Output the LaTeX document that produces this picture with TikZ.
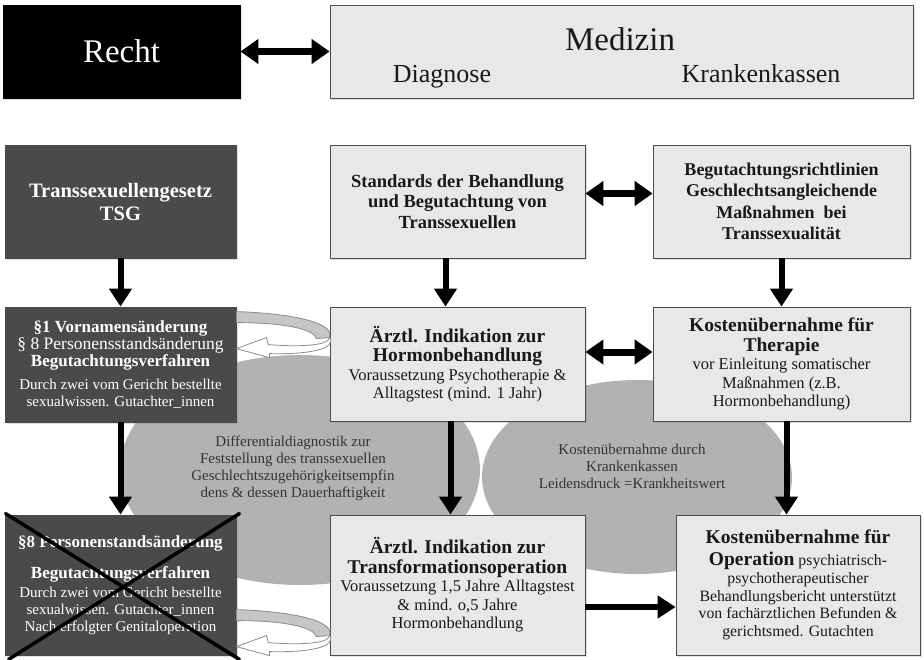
\documentclass[tikz,border=0pt]{standalone}
\usepackage{fontspec}
\setmainfont{Liberation Serif}
\usetikzlibrary{arrows.meta,shadows,shapes.geometric}
\definecolor{darkfill}{gray}{0.29}
\definecolor{lightfill}{gray}{0.91}
\definecolor{blobfill}{gray}{0.70}
\definecolor{inktext}{gray}{0.10}
\definecolor{ringgray}{gray}{0.55}
\newcommand{\hd}[1]{{\bfseries\fontsize{19.5}{22}\selectfont #1}}
\newcommand{\hdw}[1]{{\bfseries\fontsize{17}{20}\selectfont #1}}
\tikzset{
  ringarrow/.pic={
    \filldraw[fill=gray!45, draw=ringgray, line width=0.8pt] (0,0) .. controls (60,2) and (99,12) .. (93,26) -- (80,27) .. controls (78,18) and (50,11) .. (0,11) -- cycle;
    \filldraw[fill=white, draw=ringgray, line width=0.8pt] (93,25) .. controls (95,33) and (70,36) .. (32,33) -- (30,26) -- (0,37) -- (33,46) -- (33,42) .. controls (75,43) and (101,37) .. (93,25) -- cycle;
  }
}
\begin{document}
\begin{tikzpicture}[x=1pt,y=-1pt]
\tikzstyle{box} = [rectangle, text centered, align=center, inner sep=2pt, line width=0.8pt, drop shadow={opacity=0.25,shadow xshift=1.5pt,shadow yshift=-1.5pt}]
\tikzstyle{lightstate} = [box, draw=black!70, fill=lightfill, text=inktext, font=\fontsize{16.5}{18.5}\selectfont]
\tikzstyle{darkstate} = [box, draw=darkfill, fill=darkfill, text=white, font=\fontsize{15}{17}\selectfont]
\tikzstyle{blob} = [ellipse, fill=blobfill, inner sep=0pt]
\tikzstyle{blobtext} = [text=black!80, align=center, font=\fontsize{15}{17}\selectfont]
\tikzstyle{bigarrow} = [line width=6pt, -{Triangle[width=22pt,length=18pt]}]
\tikzstyle{bothways} = [line width=7pt, {Triangle[width=24pt,length=18pt]}-{Triangle[width=24pt,length=18pt]}]
\useasboundingbox (0,0) rectangle (924,659);
\node[blob, minimum width=360pt, minimum height=230pt] at (300,470) (blob_diag){};
\node[blob, minimum width=310pt, minimum height=194pt] at (637,477) (blob_kasse){};
\node[blobtext] at (293,468) (diag_text){Differentialdiagnostik zur\\Feststellung des transsexuellen\\Geschlechtszugehörigkeitsempfin\\dens \& dessen Dauerhaftigkeit};
\node[blobtext] at (632,466) (kasse_text){Kostenübernahme durch\\Krankenkassen\\Leidensdruck =Krankheitswert};
\node[box, fill=black, draw=black, text=white, minimum width=237pt, minimum height=93pt, font=\fontsize{33}{36}\selectfont] at (121.5,51.5) (recht){Recht};
\node[lightstate, minimum width=583pt, minimum height=93pt] at (621.5,51.5) (medizin){};
\node[anchor=base, text=inktext, font=\fontsize{33}{36}\selectfont] at (620,50) (med_title){Medizin};
\node[anchor=base, text=inktext, font=\fontsize{26}{30}\selectfont] at (442,82) (med_diag){Diagnose};
\node[anchor=base, text=inktext, font=\fontsize{26}{30}\selectfont] at (761,82) (med_kasse){Krankenkassen};
\node[darkstate, minimum width=231pt, minimum height=113pt, font=\bfseries\fontsize{20.5}{23}\selectfont] at (120.5,201.5) (tsg){Transsexuellengesetz\\TSG};
\node[lightstate, minimum width=255pt, minimum height=113pt, font=\bfseries\fontsize{18.5}{20.5}\selectfont] at (457.5,201.5) (standards){Standards der Behandlung\\und Begutachtung von\\Transsexuellen};
\node[lightstate, minimum width=257pt, minimum height=113pt, font=\bfseries\fontsize{18}{21.5}\selectfont] at (781.5,201.5) (richtlinien){Begutachtungsrichtlinien\\Geschlechtsangleichende\\Maßnahmen\ \ bei\\Transsexualität};
\node[darkstate, minimum width=231pt, minimum height=115pt] at (120.5,364.5) (vorname){\hdw{§1 Vornamensänderung}\\{\fontsize{17.5}{19}\selectfont § 8 Personensstandsänderung}\\\hdw{Begutachtungsverfahren}\\[6pt]Durch zwei vom Gericht bestellte\\sexualwissen. Gutachter\_innen};
\node[lightstate, minimum width=255pt, minimum height=114pt] at (457.5,364) (hormon){\hd{Ärztl. Indikation zur}\\[1pt]\hd{Hormonbehandlung}\\Voraussetzung Psychotherapie \&\\Alltagstest (mind. 1 Jahr)};
\node[lightstate, minimum width=257pt, minimum height=114pt] at (781.5,364) (kostther){\hd{Kostenübernahme für}\\[1pt]\hd{Therapie}\\vor Einleitung somatischer\\Maßnahmen (z.B.\\Hormonbehandlung)};
\node[darkstate, minimum width=231pt, minimum height=140pt] at (120.5,585) (pstand){\hdw{§8 Personenstandsänderung}\\[14pt]\hdw{Begutachtungsverfahren}\\[2pt]Durch zwei vom Gericht bestellte\\sexualwissen. Gutachter\_innen\\Nach erfolgter Genitaloperation};
\node[lightstate, minimum width=255pt, minimum height=140pt] at (457.5,585) (transform){\hd{Ärztl. Indikation zur}\\[1pt]\hd{Transformationsoperation}\\Voraussetzung 1,5 Jahre Alltagstest\\\& mind. o,5 Jahre\\Hormonbehandlung};
\node[lightstate, minimum width=244pt, minimum height=140pt, font=\fontsize{15.8}{17.5}\selectfont] at (798,585) (kostop){\hd{Kostenübernahme für}\\[4pt]\hd{Operation} psychiatrisch-\\[1pt]psychotherapeutischer\\Behandlungsbericht unterstützt\\von fachärztlichen Befunden \&\\gerichtsmed. Gutachten};
\draw[line width=3.5pt, line cap=round] ([shift={(1pt,1pt)}]pstand.north west) -- ([shift={(3pt,-4pt)}]pstand.south east);
\draw[line width=3.5pt, line cap=round] ([shift={(3pt,1pt)}]pstand.north east) -- ([shift={(4pt,-4pt)}]pstand.south west);
\pic at (vorname.north east) [yshift=-5pt] {ringarrow};
\pic at (pstand.north east) [yshift=-95pt] {ringarrow};
\draw[bothways] (recht) -- (medizin);
\draw[bothways] ([yshift=8pt]standards.east) -- ([yshift=8pt]richtlinien.west);
\draw[bothways] ([yshift=12pt]hormon.east) -- ([yshift=12pt]kostther.west);
\draw[bigarrow] (tsg) -- (vorname);
\draw[bigarrow] ([xshift=-12pt]standards.south) -- ([xshift=-12pt]hormon.north);
\draw[bigarrow] (richtlinien) -- (kostther);
\draw[bigarrow] (vorname) -- (pstand);
\draw[bigarrow] ([xshift=-7pt]hormon.south) -- ([xshift=-7pt]transform.north);
\draw[bigarrow] ([xshift=5pt]kostther.south) -- ([xshift=5pt]kostther.south |- kostop.north);
\draw[bigarrow] ([yshift=-22pt]transform.east) -- ([yshift=-22pt]kostop.west);
\end{tikzpicture}
\end{document}
